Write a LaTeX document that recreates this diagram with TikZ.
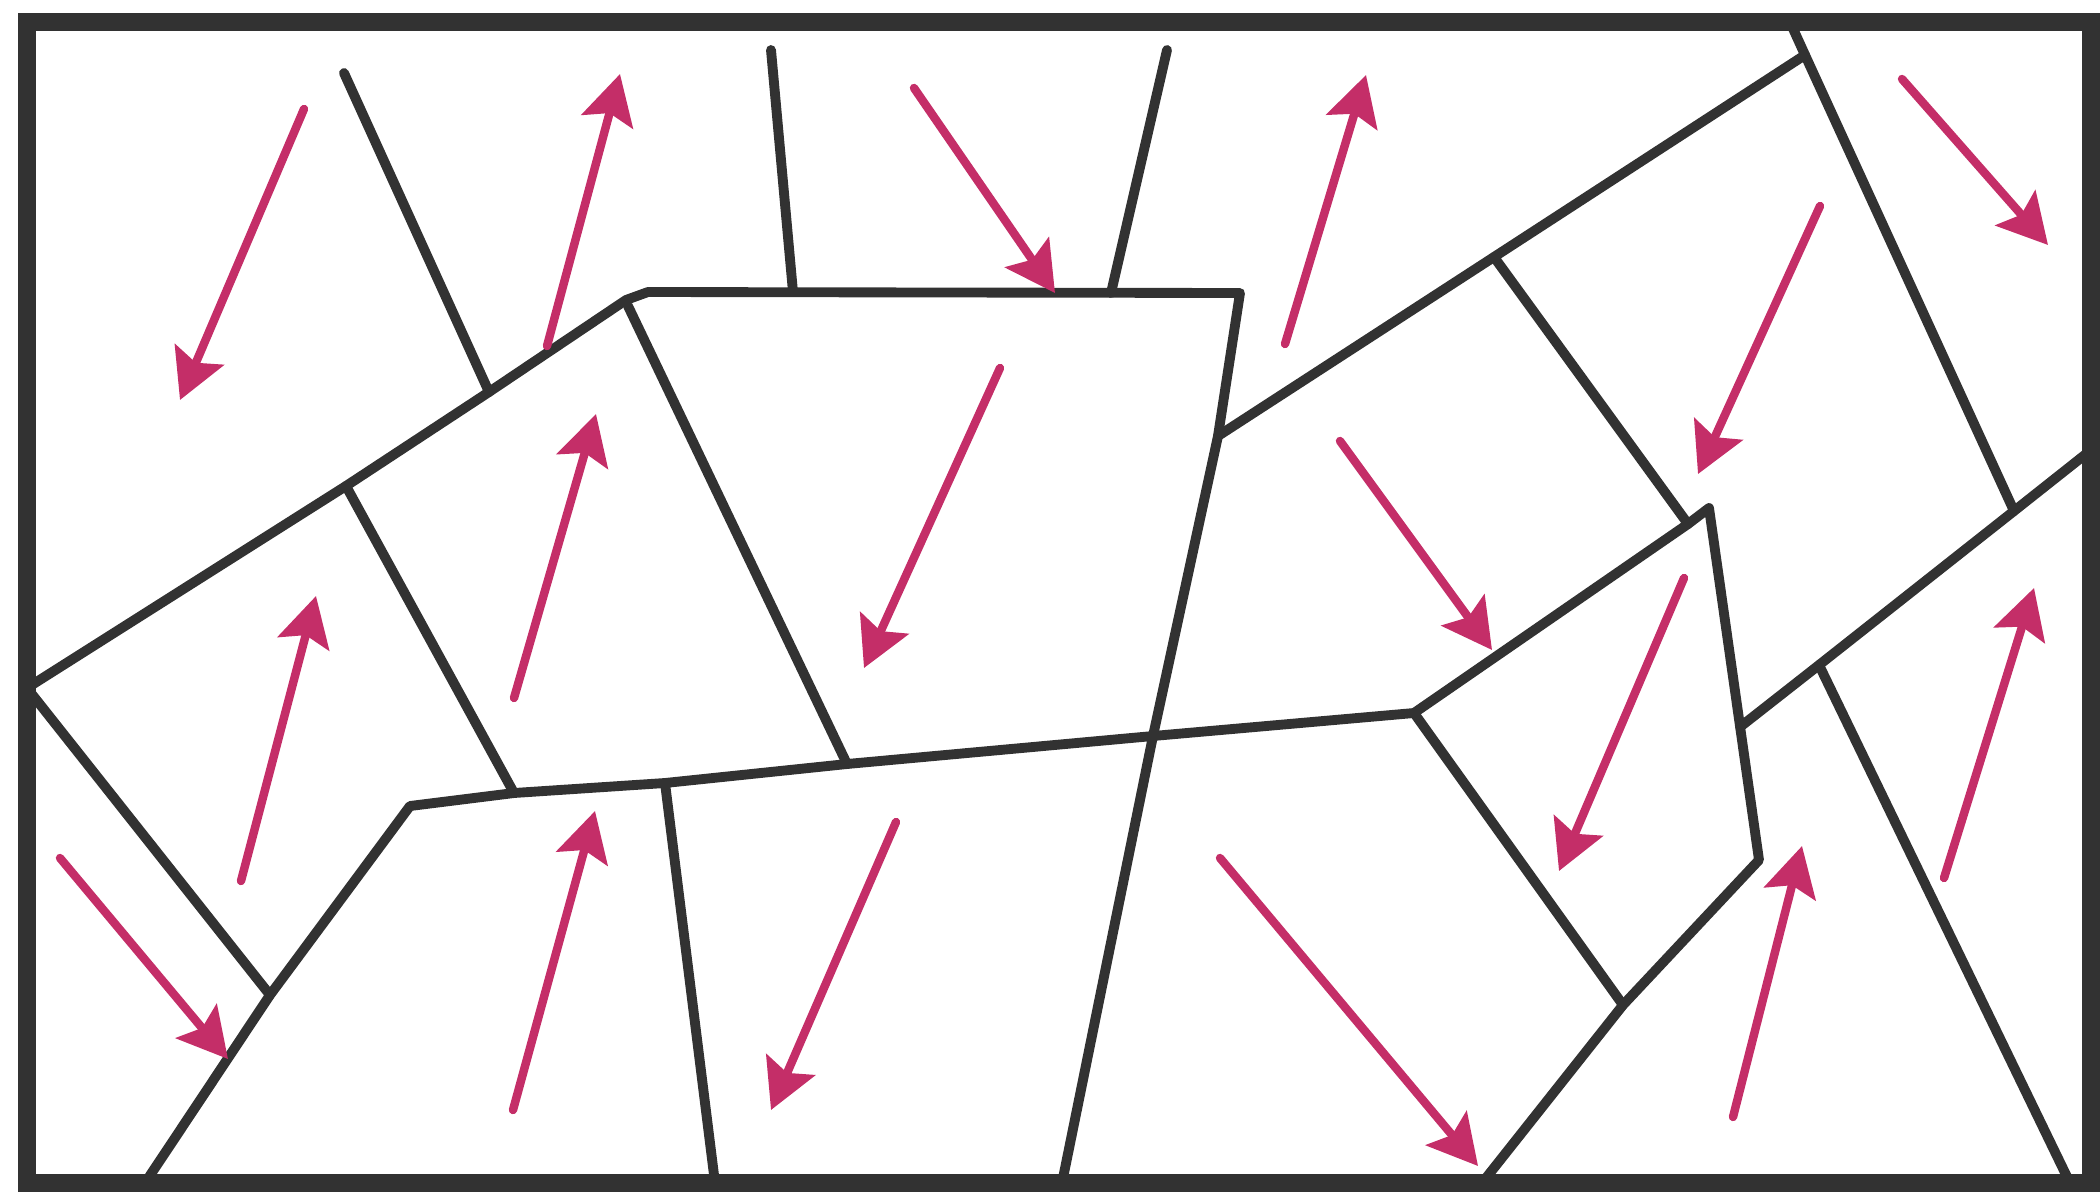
\documentclass[tikz,border=0pt]{standalone}
\usepackage{tikz}
\usetikzlibrary{arrows.meta}
\definecolor{wallgray}{RGB}{50,50,50}
\definecolor{momentred}{RGB}{196,46,104}
\tikzset{
  every picture/.append style={line cap=round,line join=round},
  domain border/.style={wallgray,line width=5pt,line join=miter,line cap=rect},
  domain wall/.style={wallgray,line width=2.8pt},
  domain moment/.style={momentred,line width=2.4pt,-{Stealth[length=14pt,width=15pt,inset=2.5pt]}}
}
\begin{document}
\begin{tikzpicture}[x=0.01cm,y=-0.01cm]
  \useasboundingbox (0,0) rectangle (2100,1200);
  % junctions of the walls
  \coordinate (lft) at (27,688);
  \coordinate (d1) at (346,486);
  \coordinate (a2) at (489,392);
  \coordinate (t1) at (626,300);
  \coordinate (t2) at (1240,293);
  \coordinate (t3) at (1218,436);
  \coordinate (x) at (1153,736);
  \coordinate (m0) at (410,806);
  \coordinate (m1) at (514,793);
  \coordinate (m3) at (665,783);
  \coordinate (m2) at (847,764);
  \coordinate (j1) at (270,995);
  \coordinate (k) at (1414,713);
  \coordinate (e1) at (1494,257);
  \coordinate (e2) at (1688,524);
  \coordinate (kb) at (1709,508);
  \coordinate (kc) at (1759,860);
  \coordinate (j2) at (1623,1005);
  \coordinate (r1) at (1805,55);
  \coordinate (w1) at (2014,511);
  \coordinate (w2) at (1819,665);
  % domain walls
  \draw[domain wall] (lft) -- (d1) -- (a2) -- (t1) -- (648,292) -- (t2) -- (t3) -- (x) -- (1062,1183);
  \draw[domain wall] (344,73) -- (a2);
  \draw[domain wall] (771,50) -- (793,292);
  \draw[domain wall] (1167,50) -- (1111,293);
  \draw[domain wall] (628,306) -- (m2);
  \draw[domain wall] (d1) -- (m1);
  \draw[domain wall] (lft) -- (j1);
  \draw[domain wall] (145,1183) -- (j1) -- (m0) -- (m1) -- (m3) -- (m2) -- (x) -- (k) -- (e2) -- (kb) -- (kc) -- (j2) -- (1482,1183);
  \draw[domain wall] (m3) -- (715,1183);
  \draw[domain wall] (t3) -- (e1) -- (r1);
  \draw[domain wall] (1790,22) -- (r1) -- (w1);
  \draw[domain wall] (e1) -- (e2);
  \draw[domain wall] (k) -- (j2);
  \draw[domain wall] (2091,450) -- (w1) -- (w2) -- (1740,727);
  \draw[domain wall] (w2) -- (2070,1183);
  % magnetisation of each domain
  \foreach \xa/\ya/\xb/\yb in {304/109/180/400, 547/346/620/74, 914/88/1055/293,
      1285/344/1366/75, 1902/79/2048/245, 1820/206/1698/474, 514/698/596/414,
      1000/368/864/668, 1340/441/1492/650, 241/881/316/596, 1684/578/1559/871,
      1944/878/2034/588, 60/858/228/1059, 513/1110/595/811, 896/822/771/1110,
      1220/858/1478/1166, 1733/1117/1802/846}
    \draw[domain moment] (\xa,\ya) -- (\xb,\yb);
  \draw[domain border] (27,22) rectangle (2091,1183);
\end{tikzpicture}
\end{document}
